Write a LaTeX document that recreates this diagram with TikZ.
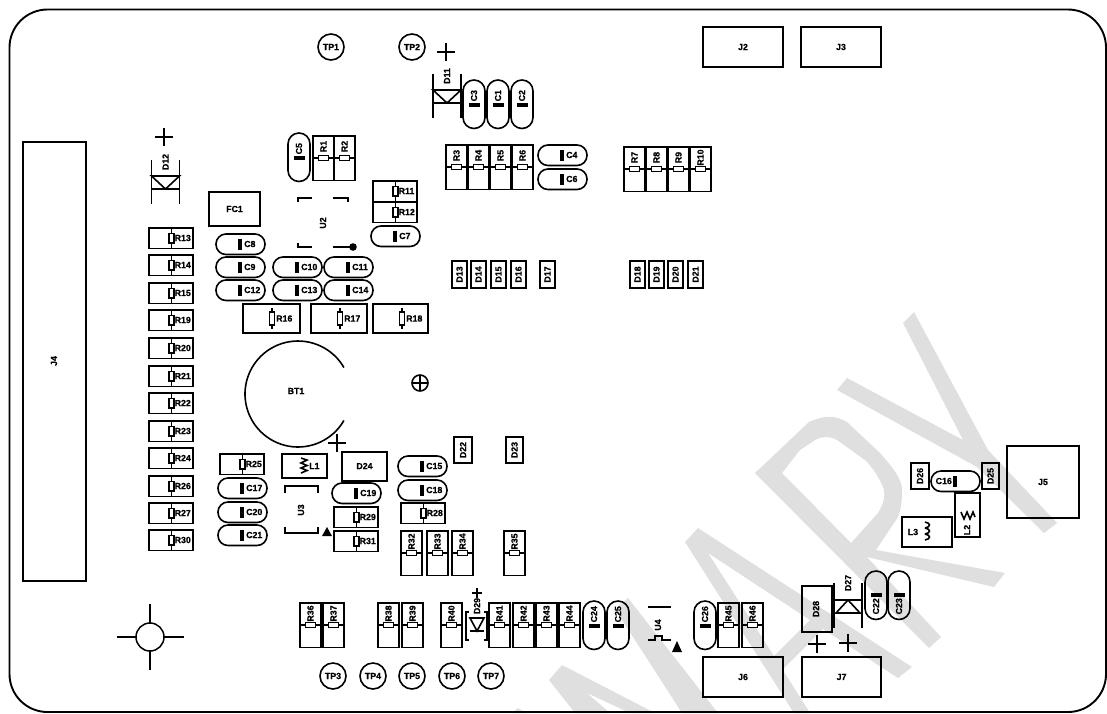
\documentclass[tikz,border=0pt]{standalone}
\usepackage{fontspec}
\setmainfont[BoldFeatures={FakeBold=0.7}]{Liberation Sans}
\usepackage{xcolor}
\definecolor{watermarkgray}{RGB}{223,223,223}
\tikzset{
    partline/.style={line width=1.6pt, black},
    heavyline/.style={line width=2.2pt, black},
    partlabel/.style={font=\fontsize{8.8}{9}\selectfont\bfseries, inner sep=0pt, black},
}

\begin{document}
\begin{tikzpicture}[x=1pt, y=-1pt]
    \useasboundingbox (0,0) rectangle (1107,713);

    % Watermark
    \fill[watermarkgray] (512,713) -- (518,708) -- (526,713) -- cycle;
    \fill[watermarkgray] (549,680) -- (562,665) -- (655,713) -- (630,713) -- (587,693) -- (610,713) -- (575,713) -- cycle;
    \fill[watermarkgray] (615,609) -- (628,598) -- (718,713) -- (682,713) -- cycle;
    \fill[watermarkgray, even odd rule] (685,542) -- (698,528) -- (912,667) -- (898,678) -- (823,629) -- (782.5,669.5) -- (810,713) -- (794,713) -- cycle
        (708,553) -- (810,620) -- (774,656) -- cycle;
    \fill[watermarkgray, even odd rule] (755,473) -- (809,422) .. controls (825,415) and (835,415) .. (847,422) -- (880,453) .. controls (895,470) and (902,480) .. (902,490) .. controls (902,505) and (900,512) .. (898,517) -- (876,550) -- (1005,573) -- (994,587) -- (867,557) -- (941,637) -- (929,648) -- cycle
        (782,473) -- (851,543) -- (878,513) .. controls (884,503) and (885,497) .. (884,490) .. controls (880,478) and (872,467) .. (865,460) -- (837,440) .. controls (830,436) and (822,436) .. (815,440) -- (800,450) -- cycle;
    \fill[watermarkgray] (914,312) -- (988,450) -- (1057,523) -- (1044,533) -- (977,467) -- (837,390) -- (847,378) -- (963,440) -- (903,323) -- cycle;

    % Board outline
    \draw[line width=1.9pt, rounded corners=38pt] (9.5,9.5) rectangle (1106,712);

    % Connectors
    \foreach \jx/\jy/\jw/\jh/\lbl in {703/27/80/40/J2, 801/27/80/40/J3, 1007/446/72/72/J5, 703/657/80/40/J6, 802/657/79/40/J7} {
        \draw[partline] (\jx,\jy) rectangle (\jx+\jw,\jy+\jh);
        \node[partlabel] (\lbl) at (\jx+0.5*\jw,\jy+0.5*\jh) {\lbl};
    }
    \draw[partline] (23,142) rectangle (86,581);
    \node[partlabel, rotate=90] (J4) at (54,361) {J4};

    % Test points
    \foreach \tx/\ty/\lbl in {331/47/TP1, 412/47/TP2, 333/676/TP3, 373/676/TP4, 412/676/TP5, 452/676/TP6, 491/676/TP7} {
        \node[partlabel, draw, line width=1.6pt, circle, minimum size=26pt] (\lbl) at (\tx,\ty) {\lbl};
    }

    % Horizontal resistors
    \foreach \rx/\ry/\lbl in {149/228/R13, 149/255/R14, 149/283/R15, 149/310/R19, 149/338/R20, 149/366/R21, 149/393/R22, 149/421/R23, 149/448/R24, 149/476/R26, 149/503/R27, 149/530/R30, 373/181/R11, 373/202/R12, 220/454/R25, 334/507/R29, 334/531/R31, 401/503/R28} {
        \draw[partline] (\rx,\ry) rectangle (\rx+44,\ry+20.5);
        \draw[partline] (\rx+22.5,\ry) -- (\rx+22.5,\ry+20.5);
        \draw[partline, fill=white] (\rx+20,\ry+5.5) rectangle (\rx+25,\ry+15);
        \node[partlabel, anchor=west] (\lbl) at (\rx+25.5,\ry+10) {\lbl};
    }
    \foreach \rx/\rw/\lbl in {243/57/R16, 311/56/R17, 373/55/R18} {
        \draw[partline] (\rx,304) rectangle (\rx+\rw,333);
        \draw[partline] (\rx+29,308) -- (\rx+29,329);
        \draw[partline, fill=white] (\rx+26.5,312) rectangle (\rx+31.5,325);
        \node[partlabel, anchor=west] (\lbl) at (\rx+33,318.5) {\lbl};
    }

    % Vertical resistors
    \foreach \vx/\vy/\lbl in {313/136/R1, 334/136/R2, 446/145/R3, 468/145/R4, 490/145/R5, 512/145/R6, 624/147/R7, 646/147/R8, 668/147/R9, 690/147/R10, 401/531/R32, 427/531/R33, 452/531/R34, 504/531/R35, 300/603/R36, 323/603/R37, 378/603/R38, 402/603/R39, 441/603/R40, 489/603/R41, 513/603/R42, 536/603/R43, 559/603/R44, 718/603/R45, 742/603/R46} {
        \draw[partline] (\vx,\vy) rectangle (\vx+21,\vy+44.5);
        \draw[partline] (\vx,\vy+22) -- (\vx+21,\vy+22);
        \draw[partline, fill=white] (\vx+5.5,\vy+19.5) rectangle (\vx+15.5,\vy+24.5);
        \node[partlabel, rotate=90] (\lbl) at (\vx+10.5,\vy+10.5) {\lbl};
    }

    % Horizontal capacitors
    \foreach \cx/\cy/\lbl in {216/234/C8, 216/257/C9, 216/280/C12, 273/257/C10, 324/257/C11, 273/280/C13, 324/280/C14, 371/226/C7, 218/478/C17, 218/502/C20, 218/525/C21, 332/483/C19, 398/456/C15, 398/480/C18, 538/145/C4, 538/169/C6} {
        \draw[partline, rounded corners=10pt] (\cx,\cy) rectangle (\cx+49,\cy+20.5);
        \fill (\cx+22,\cy+4.5) rectangle (\cx+26,\cy+16);
        \node[partlabel, anchor=west] (\lbl) at (\cx+28,\cy+10) {\lbl};
    }
    \draw[partline, rounded corners=10pt] (931,471) rectangle (980,491.5);
    \fill (953,475.5) rectangle (957,487);
    \node[partlabel, anchor=east] (C16) at (952,481) {C16};

    % Vertical capacitors
    \foreach \cx/\cy/\lbl in {288/133/C5, 463/80/C3, 487/80/C1, 511/80/C2, 583/601/C24, 607/601/C25, 694/601/C26} {
        \draw[partline, rounded corners=11pt] (\cx,\cy) rectangle (\cx+22,\cy+48.5);
        \fill (\cx+5.5,\cy+23) rectangle (\cx+16.5,\cy+27);
        \node[partlabel, rotate=90, anchor=west] (\lbl) at (\cx+11,\cy+21.5) {\lbl};
    }
    \foreach \cx/\cy/\lbl in {865/571/C22, 888/571/C23} {
        \draw[partline, rounded corners=11pt] (\cx,\cy) rectangle (\cx+22,\cy+48.5);
        \fill (\cx+5.5,\cy+21.5) rectangle (\cx+16.5,\cy+25.5);
        \node[partlabel, rotate=90, anchor=east] (\lbl) at (\cx+11,\cy+27) {\lbl};
    }

    % Small diode boxes
    \foreach \dx/\dy/\dw/\dh/\lbl in {452/261/15/27/D13, 471/261/15/27/D14, 491/261/15/27/D15, 511/261/15/27/D16, 540/261/15/27/D17, 630/261/15/27/D18, 649/261/15/27/D19, 668/261/15/27/D20, 688/261/15/27/D21, 454/437/18/26/D22, 506/437/17/26/D23, 982/463/17/26/D25, 911/463/18/26/D26} {
        \draw[partline] (\dx,\dy) rectangle (\dx+\dw,\dy+\dh);
        \node[partlabel, rotate=90] (\lbl) at (\dx+0.5*\dw,\dy+0.5*\dh) {\lbl};
    }
    \draw[heavyline] (209,192) rectangle (260,226);
    \node[partlabel] (FC1) at (234.5,209) {FC1};
    \draw[heavyline] (342,452) rectangle (387,481);
    \node[partlabel] (D24) at (364.5,466) {D24};
    \draw[heavyline] (802,586) rectangle (832,632);
    \node[partlabel, rotate=90] (D28) at (816,609) {D28};

    % Diodes with bars
    \foreach \dx/\dy/\lbl in {447/90/D11, 165.5/176/D12} {
        \draw[partline] (\dx-14,\dy-16) -- (\dx-14,\dy+28);
        \draw[partline] (\dx+14,\dy-16) -- (\dx+14,\dy+28);
        \draw[partline] (\dx-14,\dy) -- (\dx+14,\dy) -- (\dx,\dy+13) -- cycle;
        \draw[partline] (\dx-14,\dy+13) -- (\dx+14,\dy+13);
        \node[partlabel, rotate=90] (\lbl) at (\dx,\dy-14) {\lbl};
    }
    \draw[partline] (834,583) -- (834,628);
    \draw[partline] (862,583) -- (862,628);
    \draw[partline] (834,600) -- (862,600);
    \draw[partline] (836,613) -- (860,613) -- (848,600) -- cycle;
    \node[partlabel, rotate=90] (D27) at (848,583) {D27};
    \draw[partline] (469,612) -- (466,612) -- (466,640) -- (469,640);
    \draw[partline] (484,612) -- (487,612) -- (487,640) -- (484,640);
    \draw[partline] (470,618) -- (484,618) -- (477,631) -- cycle;
    \draw[partline] (470,631) -- (484,631);
    \node[partlabel, rotate=90] (D29) at (477,606) {D29};

    % Inductors
    \draw[partline] (282,454) rectangle (327,478);
    \draw[partline] (301,458) -- (307,460) -- (301,463) -- (307,465.5) -- (301,468) -- (307,470.5) -- (301,473);
    \node[partlabel, anchor=west] (L1) at (309,466) {L1};
    \draw[partline] (902,517) rectangle (952,547);
    \foreach \ly in {522,528,534} {
        \draw[partline] (925,\ly) .. controls (931,\ly+1) and (931,\ly+5) .. (925,\ly+6);
    }
    \node[partlabel] (L3) at (913,532) {L3};
    \draw[partline] (955,493) rectangle (980,537);
    \draw[partline] (961,512) -- (964,519) -- (967,512) -- (970,519) -- (973,512) -- (975,517);
    \node[partlabel, rotate=90] (L2) at (967,530) {L2};

    % U2
    \draw[partline] (298,202) -- (298,198) -- (312,198);
    \draw[partline] (333,198) -- (348,198) -- (348,202);
    \draw[partline] (298,243) -- (298,247) -- (312,247);
    \draw[partline] (333,247) -- (350,247);
    \fill (353,247) circle (3.8);
    \node[partlabel, rotate=90] (U2) at (323,223) {U2};

    % U3
    \draw[partline] (285,493) -- (285,486) -- (318,486) -- (318,493);
    \draw[partline] (285,527) -- (285,533) -- (318,533) -- (318,527);
    \fill (322,536) -- (332,536) -- (327,527) -- cycle;
    \node[partlabel, rotate=90] (U3) at (301,510) {U3};

    % U4
    \draw[partline] (648,607) -- (671,607);
    \draw[partline] (648,640) -- (655,640) -- (655,636) -- (662,636) -- (662,640) -- (671,640);
    \fill (672,652) -- (682,652) -- (677,641) -- cycle;
    \node[partlabel, rotate=90] (U4) at (658,625) {U4};

    % BT1
    \draw[line width=1.6pt] plot[domain=30:330, samples=70] ({298+53*cos(\x)},{394+53*sin(\x)});
    \node[partlabel] (BT1) at (296,391) {BT1};
    \draw[partline] (420,383) circle (8);
    \draw[partline] (412,383) -- (428,383);
    \draw[partline] (420,375) -- (420,391);

    % Polarity marks
    \foreach \px/\py in {446/52, 164/137, 337/443, 817/644, 848/643} {
        \draw[line width=1.5pt] (\px-9,\py) -- (\px+9,\py);
        \draw[line width=1.5pt] (\px,\py-9) -- (\px,\py+9);
    }
    \draw[line width=1.5pt] (472,593) -- (482,593);
    \draw[line width=1.5pt] (477,588) -- (477,598);

    % Fiducial
    \draw[line width=1.5pt] (150,637) circle (14);
    \draw[line width=1.5pt] (117,637) -- (136,637);
    \draw[line width=1.5pt] (164,637) -- (184,637);
    \draw[line width=1.5pt] (150,604) -- (150,623);
    \draw[line width=1.5pt] (150,651) -- (150,670);
\end{tikzpicture}
\end{document}
